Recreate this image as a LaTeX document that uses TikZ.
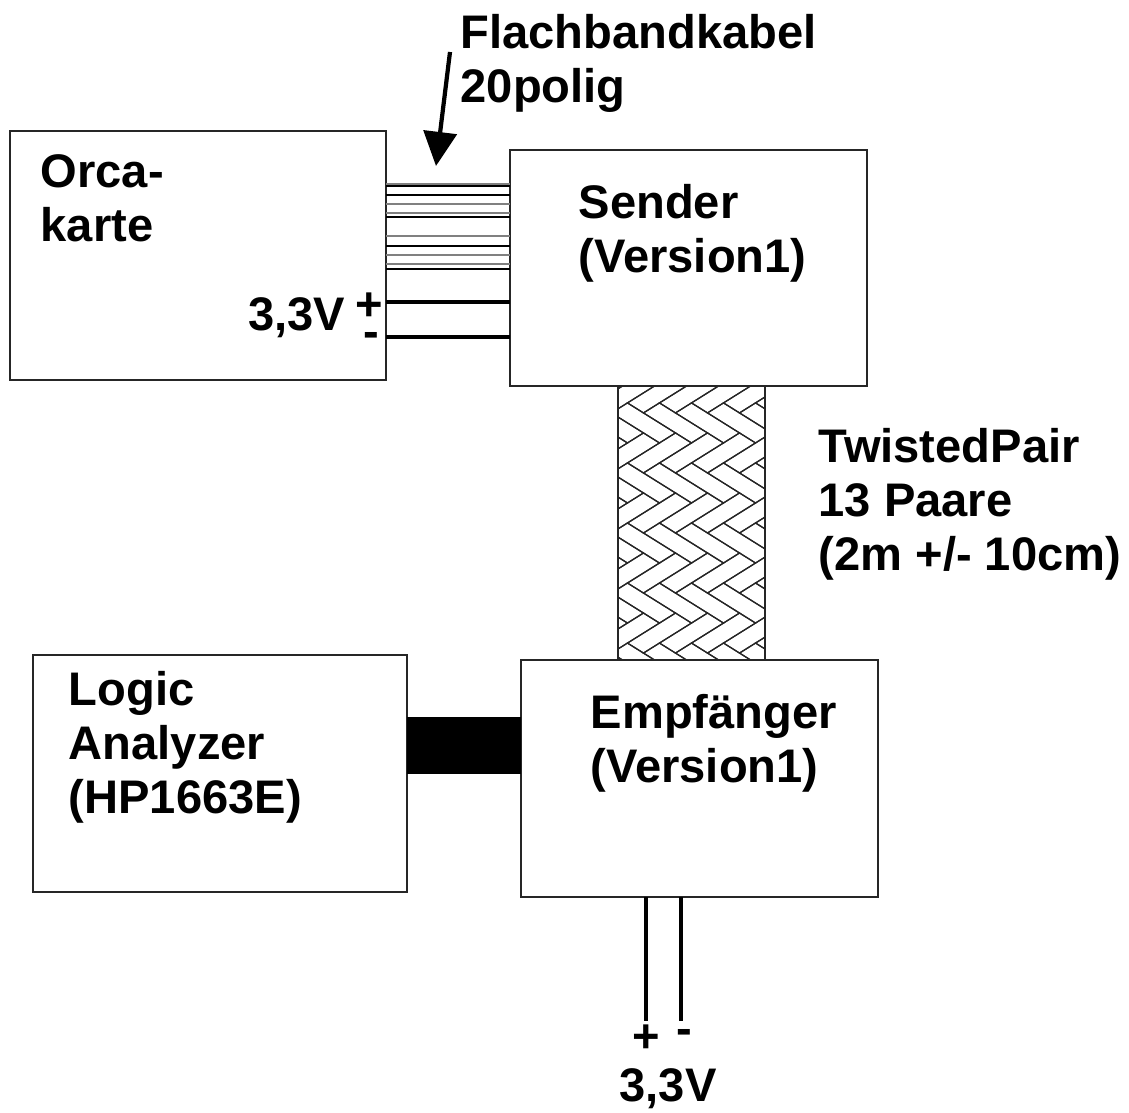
\documentclass[tikz,border=0pt]{standalone}
\usepackage{fontspec}
\setmainfont{Liberation Sans}
\usetikzlibrary{positioning,arrows.meta}

\tikzset{
    box/.style={draw=black!85, line width=0.5pt, inner sep=0pt, outer sep=0pt},
    txt/.style={inner sep=0pt, align=left, anchor=base west},
    sign/.style={inner sep=0pt, anchor=base},
    power/.style={line width=0.9pt},
    brick/.style={line width=0.35pt}
}

\begin{document}
\begin{tikzpicture}[x=0.01cm, y=-0.01cm,
    font=\bfseries\fontsize{13.4}{15.36}\selectfont]
    \useasboundingbox (0,0) rectangle (1129,1113);

    % Boxes
    \node[box, minimum width=3.76cm, minimum height=2.49cm] (orca) at (198,255.5) {};
    \node[box, minimum width=3.57cm, minimum height=2.36cm] (sender) at (688.5,268) {};
    \node[box, minimum width=3.74cm, minimum height=2.37cm] (logic) at (220,773.5) {};
    \node[box, minimum width=3.57cm, minimum height=2.37cm] (empf) at (699.5,778.5) {};

    % Box texts (anchored at the baseline of the last line)
    \node[txt] (orcatext) at (40,242) {Orca-\\karte};
    \node[txt] (sendertext) at (578,273) {Sender\\(Version1)};
    \node[txt] (logictext) at (68,814) {Logic\\Analyzer\\(HP1663E)};
    \node[txt] (empftext) at (590,783) {Empfänger\\(Version1)};

    % Ribbon cable, 20 lines
    \foreach \y/\c/\w in {184/gray/0.3pt, 186/black/0.3pt, 195/black/0.3pt,
        204/gray/0.35pt, 213/gray/0.35pt, 217/black/0.3pt, 236/gray/0.8pt,
        246/black/0.3pt, 255/gray/0.35pt, 264/gray/0.35pt, 269/black/0.3pt}
        \draw[\c, line width=\w] (orca.east |- 0,\y) -- (sender.west |- 0,\y);

    \node[txt] (ribbontext) at (460,103) {Flachbandkabel\\20polig};
    \coordinate (arrowtail) at (450,52);
    \coordinate (arrowtip) at (436,166);
    \draw[line width=1.2pt, -{Triangle[length=9.7pt, width=9.4pt]}] (arrowtail) -- (arrowtip);

    % Supply to the sender
    \draw[power] (orca.east |- 0,302) -- (sender.west |- 0,302);
    \draw[power] (orca.east |- 0,337) -- (sender.west |- 0,337);
    \node[sign] (lplus) at (369,321) {+};
    \node[sign] (lminus) at (371,348) {-};
    \node[inner sep=0pt, anchor=base east] (lvolt) at (346,331) {3,3V};

    % Twisted pair cable
    \node[box, minimum width=1.47cm, minimum height=2.74cm,
        path picture={
            \begin{scope}[shift={(path picture bounding box.center)},
                x={(0.16cm,0.10cm)}, y={(0.16cm,-0.10cm)}]
                \foreach \k in {-6,...,6}
                    \foreach \m in {-4,...,4} {
                        \draw[brick] (\k+3*\m,\k-3*\m) -- ++(3,0) -- ++(0,1) -- ++(-3,0) -- cycle;
                        \draw[brick] (\k+3*\m+3,\k-3*\m-2) -- ++(1,0) -- ++(0,3) -- ++(-1,0) -- cycle;
                    }
            \end{scope}
        }] (twisted) at (691.5,523) {};
    \node[txt] (twistedtext) at (818,571) {TwistedPair\\13 Paare\\(2m +/- 10cm)};

    % Bus to the logic analyzer
    \node[fill=black, inner sep=0pt, minimum width=1.14cm, minimum height=0.57cm] (bus) at (464,745.5) {};

    % Supply to the receiver
    \coordinate (bplus) at (646,1021);
    \coordinate (bminus) at (681,1021);
    \draw[power] (empf.south -| bplus) -- (bplus);
    \draw[power] (empf.south -| bminus) -- (bminus);
    \node[sign] (bplustext) at (646,1053) {+};
    \node[sign] (bminustext) at (684,1045) {-};
    \node[sign] (bvolt) at (668,1102) {3,3V};

\end{tikzpicture}
\end{document}
